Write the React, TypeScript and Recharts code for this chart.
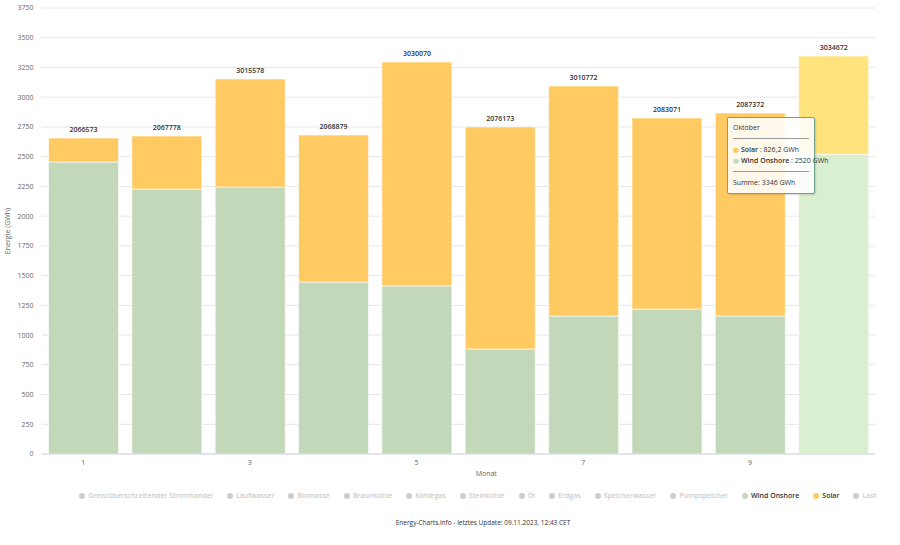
import React from 'react';
import {
  BarChart, Bar, XAxis, YAxis, CartesianGrid, Tooltip, LabelList, Cell,
} from 'recharts';

// monthly values in GWh
const months = [1, 2, 3, 4, 5, 6, 7, 8, 9, 10];
const monthNames = ['Januar', 'Februar', 'März', 'April', 'Mai', 'Juni', 'Juli', 'August', 'September', 'Oktober'];
const windOnshore = [2455, 2228, 2245, 1446, 1413, 883, 1160, 1219, 1160, 2520];
const solar = [202, 446, 908, 1236, 1883, 1867, 1934, 1606, 1707, 826.2];
const topLabels = ['2066573', '2067778', '3015578', '2068879', '3030070', '2076173', '3010772', '2083071', '2087372', '3034672'];
const yTicks = [0, 250, 500, 750, 1000, 1250, 1500, 1750, 2000, 2250, 2500, 2750, 3000, 3250, 3500, 3750];
const legendNames = ['Grenzüberschreitender Stromhandel', 'Laufwasser', 'Biomasse', 'Braunkohle', 'Kohlegas', 'Steinkohle', 'Öl', 'Erdgas', 'Speicherwasser', 'Pumpspeicher', 'Wind Onshore', 'Solar', 'Last'];

const HOVER = 9;
const FONT = '"Open Sans", "DejaVu Sans", sans-serif';
const WIND = '#c3d8b9';
const WIND_HOVER = '#daefd0';
const SOLAR = '#ffca62';
const SOLAR_HOVER = '#ffe37c';
const legendColors: Record<string, string> = { 'Wind Onshore': WIND, Solar: SOLAR };

const data = months.map((m, i) => ({
  month: m,
  name: monthNames[i],
  wind: windOnshore[i],
  solar: solar[i],
  label: topLabels[i],
}));

const fmt = (v: number) => (Number.isInteger(v) ? String(v) : v.toFixed(1).replace('.', ','));

function TipBox({ payload }: any) {
  if (!payload || !payload.length) return null;
  const row = payload[0].payload;
  const total = row.wind + row.solar;
  const lines = [
    { n: 'Solar', v: row.solar, c: SOLAR },
    { n: 'Wind Onshore', v: row.wind, c: WIND },
  ];
  const hr = <div style={{ borderTop: '1px solid #999', margin: '5px 0' }} />;
  return (
    <div style={{
      background: 'rgba(255,255,255,0.88)', border: '1px solid #6fa58c', borderRadius: 2,
      boxShadow: '1px 1px 2px rgba(0,0,0,0.15)', padding: '4px 5px 5px', width: 76,
      fontFamily: FONT, fontSize: 7, color: '#333', lineHeight: '11px',
    }}>
      <div>{row.name}</div>
      {hr}
      {lines.map(l => (
        <div key={l.n} style={{ whiteSpace: 'nowrap' }}>
          <span style={{ color: l.c }}>● </span>
          <b style={{ fontWeight: 600 }}>{l.n}</b> : {fmt(l.v)} GWh
        </div>
      ))}
      {hr}
      <div>Summe: {Math.round(total)} GWh</div>
    </div>
  );
}

export default function App() {
  return (
    <div style={{ position: 'absolute', left: 0, top: 0, width: 900, height: 545, background: '#fff', fontFamily: FONT }}>
      <BarChart width={900} height={480} data={data} barSize={70}
        margin={{ top: 8, right: 25, left: 0, bottom: 0 }}>
        <CartesianGrid vertical={false} stroke="#e6e6e6" />
        <XAxis dataKey="month" interval={1} tickLine={false} tickSize={4} height={26}
          axisLine={{ stroke: '#ccd6eb' }}
          tick={{ fontSize: 7, fill: '#666', fontFamily: FONT }}
          label={{ value: 'Monat', position: 'center', dx: 28, dy: 7, fontSize: 7, fill: '#666', fontFamily: FONT }} />
        <YAxis width={41.5} domain={[0, 3750]} ticks={yTicks} tickLine={false} axisLine={false}
          tick={{ fontSize: 7, fill: '#666', fontFamily: FONT }}
          label={{ value: 'Energie (GWh)', angle: -90, position: 'center', dx: -13, fontSize: 7, fill: '#666', fontFamily: FONT }} />
        <Tooltip active defaultIndex={HOVER} position={{ x: 727, y: 117 }} cursor={false}
          isAnimationActive={false} content={<TipBox />} />
        <Bar dataKey="wind" stackId="a" name="Wind Onshore" isAnimationActive={false} activeBar={false}
          stroke="#ffffff" strokeOpacity={0.6}>
          {data.map((d, i) => <Cell key={i} fill={i === HOVER ? WIND_HOVER : WIND} />)}
        </Bar>
        <Bar dataKey="solar" stackId="a" name="Solar" isAnimationActive={false} activeBar={false}
          stroke="#ffffff" strokeOpacity={0.6}>
          {data.map((d, i) => <Cell key={i} fill={i === HOVER ? SOLAR_HOVER : SOLAR} />)}
          <LabelList dataKey="label" position="top" offset={6}
            style={{ fontSize: 7, fontWeight: 600, fill: '#333', fontFamily: FONT }} />
        </Bar>
      </BarChart>

      <div style={{
        position: 'absolute', top: 490, left: 0, width: 956, display: 'flex', justifyContent: 'center',
        gap: 14, fontSize: 7, fontWeight: 600, lineHeight: '12px',
      }}>
        {legendNames.map(n => {
          const c = legendColors[n];
          return (
            <div key={n} style={{ display: 'flex', alignItems: 'center', gap: 3, color: c ? '#333' : '#ccc', whiteSpace: 'nowrap' }}>
              <span style={{ width: 6, height: 6, borderRadius: 3, background: c || '#ccc', display: 'inline-block' }} />
              {n}
            </div>
          );
        })}
      </div>

      <div style={{ position: 'absolute', top: 518, left: 0, width: 966, textAlign: 'center', fontSize: 6.5, color: '#333' }}>
        Energy-Charts.info - letztes Update: 09.11.2023, 12:43 CET
      </div>
    </div>
  );
}
